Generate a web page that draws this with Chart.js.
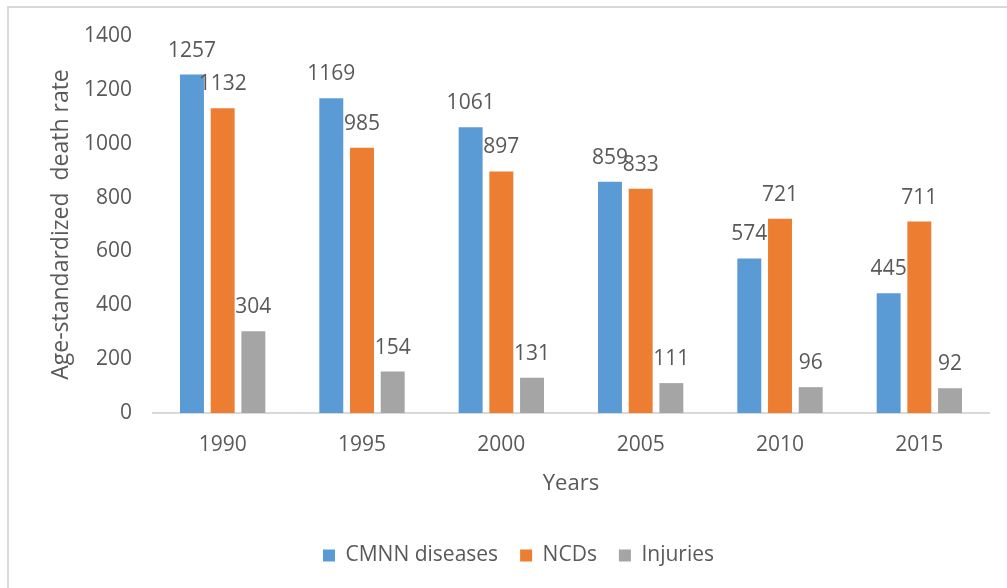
<!DOCTYPE html>
<html>
<head>
<meta charset="utf-8">
<script src="https://cdn.jsdelivr.net/npm/chart.js@4/dist/chart.umd.min.js"></script>
<style>
  body { margin: 0; background: #fff; }
  #wrap { position: relative; width: 1007px; height: 588px; overflow: hidden; }
  #frame { position: absolute; left: 7px; top: 6px; width: 1100px; height: 700px; border: 2px solid #d9d9d9; box-sizing: border-box; }
  #myChart { position: absolute; left: 0; top: 0; }
</style>
</head>
<body>
<div id="wrap">
  <div id="frame"></div>
  <canvas id="myChart" width="1007" height="588"></canvas>
</div>
<script>
const years = ["1990", "1995", "2000", "2005", "2010", "2015"];
const cmnn = [1257, 1169, 1061, 859, 574, 445];
const ncds = [1132, 985, 897, 833, 721, 711];
const injuries = [304, 154, 131, 111, 96, 92];

const textColor = "#595959";
const fontFamily = "'Open Sans', sans-serif";

// values written above each bar
const barLabels = {
    id: "barLabels",
    afterDatasetsDraw(chart) {
        const ctx = chart.ctx;
        ctx.save();
        ctx.font = "21px " + fontFamily;
        ctx.fillStyle = textColor;
        ctx.textAlign = "center";
        ctx.textBaseline = "alphabetic";
        chart.data.datasets.forEach((ds, i) => {
            chart.getDatasetMeta(i).data.forEach((bar, j) => {
                ctx.fillText(String(ds.data[j]), bar.x, bar.y - 18);
            });
        });
        ctx.restore();
    },
};

const renderChart = () => {
    const ctx = document.getElementById("myChart");
    new Chart(ctx, {
        type: "bar",
        data: {
            labels: years,
            datasets: [
                { label: "CMNN diseases", data: cmnn, backgroundColor: "#5b9bd5" },
                { label: "NCDs", data: ncds, backgroundColor: "#ed7d31" },
                { label: "Injuries", data: injuries, backgroundColor: "#a5a5a5" },
            ],
        },
        options: {
            responsive: false,
            devicePixelRatio: 1,
            animation: false,
            categoryPercentage: 0.661,
            barPercentage: 0.78,
            layout: { padding: { left: 48, right: 18, top: 36, bottom: 12 } },
            plugins: {
                tooltip: { enabled: false },
                legend: {
                    position: "bottom",
                    labels: {
                        boxWidth: 12,
                        boxHeight: 12,
                        padding: 22,
                        color: textColor,
                        font: { family: fontFamily, size: 21 },
                    },
                },
            },
            scales: {
                x: {
                    grid: { display: false, drawTicks: false },
                    border: { display: true, color: "#d9d9d9", width: 2 },
                    ticks: { color: textColor, padding: 19, font: { family: fontFamily, size: 21 } },
                    title: {
                        display: true,
                        text: "Years",
                        color: textColor,
                        padding: { top: 13, bottom: 26 },
                        font: { family: fontFamily, size: 22 },
                    },
                    afterFit: (scale) => { scale.height = 110; },
                },
                y: {
                    min: 0,
                    max: 1400,
                    grid: { display: false, drawTicks: false },
                    border: { display: false },
                    ticks: {
                        stepSize: 200,
                        color: textColor,
                        padding: 21,
                        font: { family: fontFamily, size: 21 },
                        callback: (v) => String(v),
                    },
                    title: {
                        display: true,
                        text: "Age-standardized  death rate",
                        color: textColor,
                        padding: { top: 0, bottom: 0 },
                        font: { family: fontFamily, size: 23 },
                    },
                    afterFit: (scale) => { scale.width = 105; },
                },
            },
        },
        plugins: [barLabels],
    });
};

renderChart();
</script>
</body>
</html>
